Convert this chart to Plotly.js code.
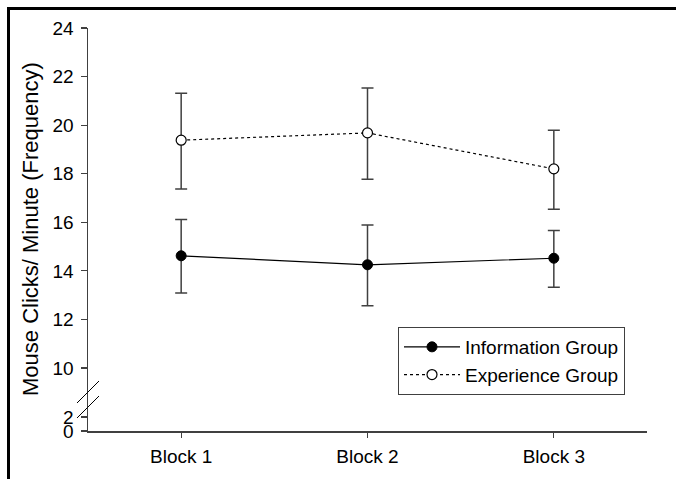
<!DOCTYPE html>
<html>
<head>
<meta charset="utf-8">
<script src="https://cdn.plot.ly/plotly-3.0.1.min.js"></script>
<style>html,body{margin:0;padding:0;background:#fff;}#chart{width:676px;height:479px;}</style>
</head>
<body>
<div id="chart"></div>
<script>
const blocks = ['Block 1', 'Block 2', 'Block 3'];
const infoMean = [14.62, 14.25, 14.52];
const infoUpper = [16.11, 15.89, 15.66];
const infoLower = [13.09, 12.56, 13.33];
const expMean = [19.38, 19.68, 18.2];
const expUpper = [21.31, 21.53, 19.79];
const expLower = [17.37, 17.77, 16.54];
const yTicksTop = [10, 12, 14, 16, 18, 20, 22, 24];
const yTicksBottom = [0, 2];

const up = (u, m) => u.map((v, i) => +(v - m[i]).toFixed(3));
const dn = (l, m) => l.map((v, i) => +(m[i] - v).toFixed(3));

const FONT = 'Liberation Sans, Arial, sans-serif';
const W = 676, H = 479;
const L = 88, R = 29, T = 28, B = 48;
const pw = W - L - R, ph = H - T - B;
const px = x => (x - L) / pw;
const py = y => (H - B - y) / ph;
const breakPix = 399;
const split = py(breakPix);

const errStyle = {type: 'data', symmetric: false, color: '#404040', thickness: 1.5, width: 6};

const traces = [
  {
    x: blocks, y: infoMean, name: 'Information Group', type: 'scatter', mode: 'lines+markers',
    line: {color: '#000', width: 1.2, dash: 'solid'},
    marker: {symbol: 'circle', size: 10, color: '#000', line: {color: '#000', width: 1}},
    error_y: Object.assign({array: up(infoUpper, infoMean), arrayminus: dn(infoLower, infoMean)}, errStyle),
    xaxis: 'x', yaxis: 'y'
  },
  {
    x: blocks, y: expMean, name: 'Experience Group', type: 'scatter', mode: 'lines+markers',
    line: {color: '#000', width: 1.2, dash: 'dot'},
    marker: {symbol: 'circle', size: 10, color: '#fff', line: {color: '#000', width: 1.2}},
    error_y: Object.assign({array: up(expUpper, expMean), arrayminus: dn(expLower, expMean)}, errStyle),
    xaxis: 'x', yaxis: 'y'
  },
  {
    x: [], y: [], type: 'scatter', mode: 'markers', showlegend: false, hoverinfo: 'skip',
    xaxis: 'x', yaxis: 'y2'
  }
];

const axisCommon = {
  showgrid: false, zeroline: false, showline: true, linecolor: '#404040', linewidth: 1.5,
  ticks: 'outside', ticklen: 6, tickcolor: '#404040', tickwidth: 1.2,
  tickfont: {family: FONT, size: 19, color: '#000'}
};

const layout = {
  width: W, height: H,
  margin: {l: L, r: R, t: T, b: B, pad: 0},
  paper_bgcolor: '#fff', plot_bgcolor: '#fff',
  font: {family: FONT, color: '#000'},
  showlegend: true,
  legend: {
    x: px(398), y: py(327), xanchor: 'left', yanchor: 'top',
    bordercolor: '#404040', borderwidth: 1, bgcolor: '#fff',
    font: {family: FONT, size: 19, color: '#000'},
    itemwidth: 56, tracegroupgap: 0
  },
  xaxis: Object.assign({}, axisCommon, {
    type: 'category', range: [-0.5, 2.5], anchor: 'y2', ticklen: 5, ticklabelstandoff: 3
  }),
  yaxis: Object.assign({}, axisCommon, {
    domain: [split, 1], range: [24 - (breakPix - 28) / ((368 - 28) / 14), 24],
    tickmode: 'array', tickvals: yTicksTop, ticktext: yTicksTop.map(String), anchor: 'x',
    ticklabelstandoff: 3
  }),
  yaxis2: Object.assign({}, axisCommon, {
    domain: [0, split], range: [0, (431 - breakPix) / 7],
    tickmode: 'array', tickvals: yTicksBottom, ticktext: yTicksBottom.map(String), anchor: 'x',
    ticklabelstandoff: 3
  }),
  annotations: [{
    text: 'Mouse Clicks/ Minute (Frequency)', textangle: -90, showarrow: false,
    xref: 'paper', yref: 'paper', x: px(30), y: py(229), xanchor: 'center', yanchor: 'middle',
    font: {family: FONT, size: 22, color: '#000'}
  }],
  shapes: [
    {type: 'line', xref: 'paper', yref: 'paper', x0: px(8.5), x1: px(8.5), y0: py(7), y1: py(480), line: {color: '#000', width: 3}},
    {type: 'line', xref: 'paper', yref: 'paper', x0: px(7), x1: px(677), y0: py(8.5), y1: py(8.5), line: {color: '#000', width: 3}},
    {type: 'line', xref: 'paper', yref: 'paper', x0: px(77), x1: px(99), y0: py(403), y1: py(381), line: {color: '#000', width: 1}},
    {type: 'line', xref: 'paper', yref: 'paper', x0: px(77), x1: px(99), y0: py(418), y1: py(396), line: {color: '#000', width: 1}}
  ]
};

Plotly.newPlot('chart', traces, layout, {staticPlot: true, displayModeBar: false});
</script>
</body>
</html>
